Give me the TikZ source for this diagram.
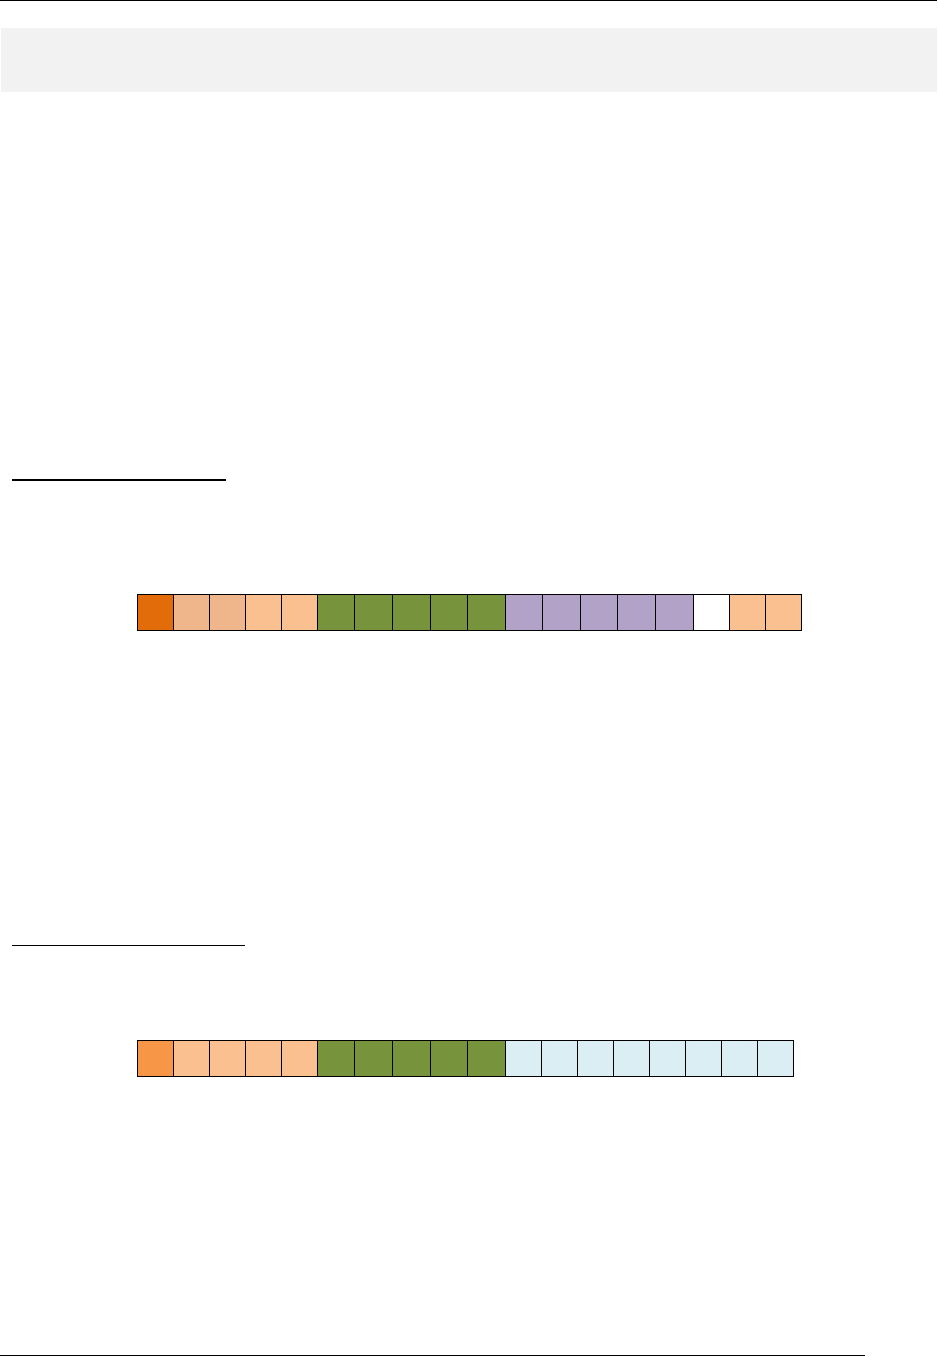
\documentclass[tikz,border=0pt]{standalone}
\usetikzlibrary{positioning}
\definecolor{panelgray}{RGB}{242,242,242}
\definecolor{rust}{RGB}{227,108,10}
\definecolor{tan}{RGB}{239,182,139}
\definecolor{peach}{RGB}{250,192,144}
\definecolor{olive}{RGB}{119,147,60}
\definecolor{lilac}{RGB}{178,162,199}
\definecolor{tangerine}{RGB}{247,150,70}
\definecolor{ice}{RGB}{218,238,243}
\tikzset{
  cell/.style={draw=black,line width=0.9pt,fill=#1,inner sep=0pt,outer sep=0pt,
    minimum height=36pt,anchor=north west},
  cell/.default=white,
  rule/.style={draw=black,line width=#1},
  rule/.default=1pt,
}
\begin{document}
\begin{tikzpicture}[x=1pt,y=-1pt]
        \useasboundingbox (0,0) rectangle (937,1357);
        % page head
        \draw[rule=1.2pt] (0,0.6) -- (937,0.6);
        \fill[panelgray] (1,28) rectangle (937,92);
        % first block
        \draw[rule=1.8pt] (12,480) -- (226,480);
        \foreach \a/\b/\c [count=\i] in {137.3/173.3/rust,173.3/209.3/tan,209.3/245.3/tan,
          245.3/281.3/peach,281.3/317.3/peach,317.3/354.3/olive,354.3/392.3/olive,
          392.3/430.3/olive,430.3/467.7/olive,467.7/505.5/olive,505.5/542.3/lilac,
          542.3/580.3/lilac,580.3/617.3/lilac,617.3/655.3/lilac,655.3/693.3/lilac,
          693.3/729.3/white,729.3/765.3/peach,765.3/801.3/peach}
          \node[cell=\c,minimum width={\b-\a}] (top\i) at (\a,594.3) {};
        % second block
        \draw[rule=1.2pt] (12,945.3) -- (245,945.3);
        \foreach \a/\b/\c [count=\i] in {137.3/173.3/tangerine,173.3/209.3/peach,209.3/245.3/peach,
          245.3/281.3/peach,281.3/317.3/peach,317.3/354.3/olive,354.3/392.3/olive,
          392.3/430.3/olive,430.3/467.7/olive,467.7/505.5/olive,505.5/541.3/ice,
          541.3/577.3/ice,577.3/613.3/ice,613.3/649.3/ice,649.3/685.3/ice,
          685.3/721.3/ice,721.3/757.3/ice,757.3/793.3/ice}
          \node[cell=\c,minimum width={\b-\a}] (low\i) at (\a,1040.3) {};
        % page foot
        \draw[rule=1.2pt] (0,1355.6) -- (865,1355.6);
      \end{tikzpicture}
\end{document}
